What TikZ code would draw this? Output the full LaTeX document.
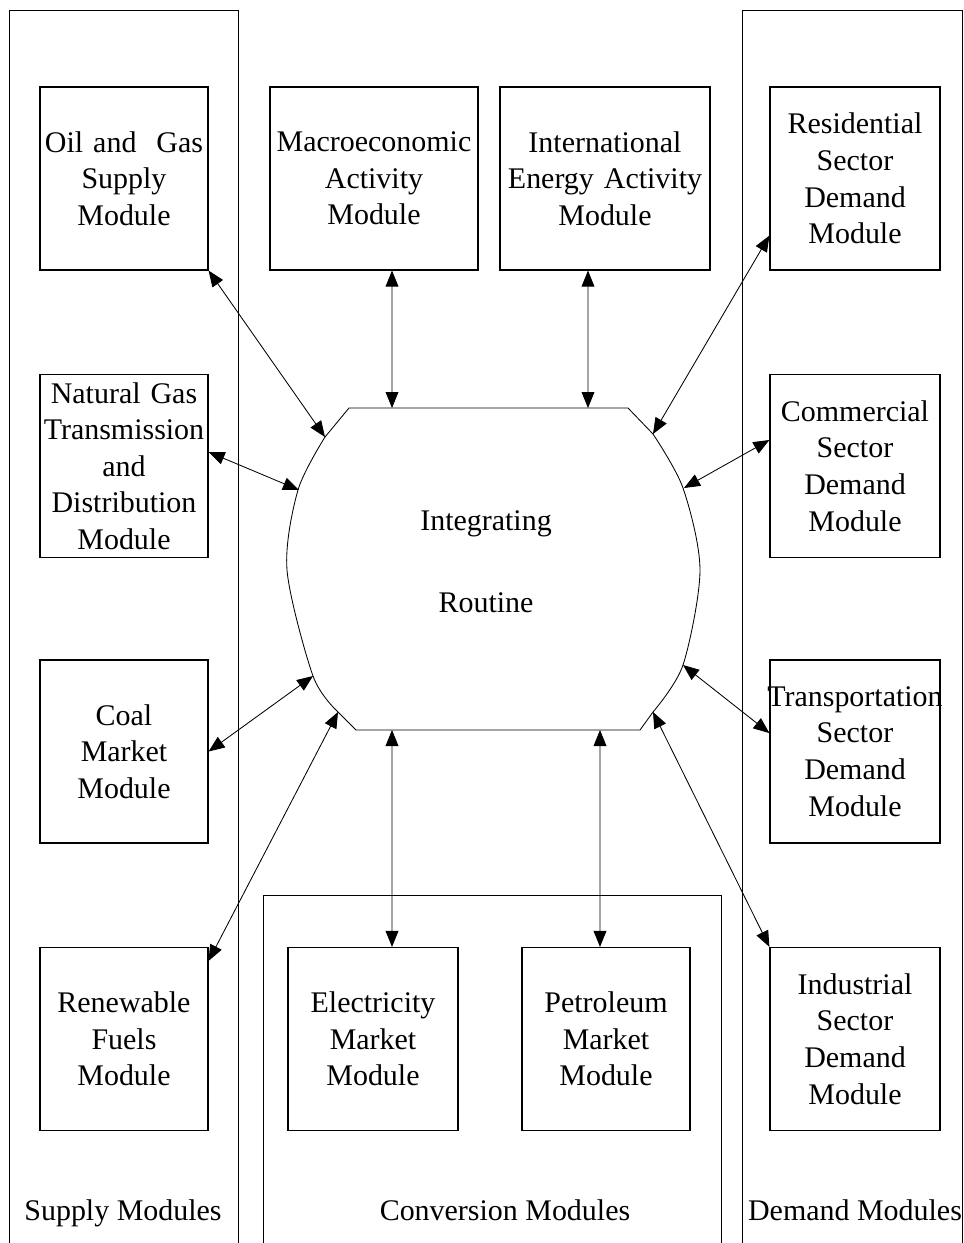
\documentclass[tikz,border=0pt]{standalone}
\usepackage{fontspec}
\setmainfont{Liberation Serif}
\usetikzlibrary{positioning,calc,arrows.meta}

\tikzset{
  module/.style={rectangle, draw, line width=0.8pt, inner sep=0pt, align=center,
    text width=#1, minimum height=4.575cm},
  module/.default=4.2cm,
  group/.style={rectangle, draw, line width=0.8pt, inner sep=0pt, anchor=north west},
  link/.style={line width=0.6pt, <->, >={Triangle[length=4mm,width=3.2mm]}}
}

\begin{document}
\begin{tikzpicture}[x=0.025cm, y=-0.025cm, font=\fontsize{21.3}{26}\selectfont]
    \useasboundingbox (0,0) rectangle (964,1243);

    % the three groups (open at the bottom edge)
    \node (supply) [group, minimum width=5.725cm, minimum height=31.5cm] at (9,10) {};
    \node (demand) [group, minimum width=5.5cm, minimum height=31.5cm] at (742,10) {};
    \node (conversion) [group, minimum width=11.45cm, minimum height=10cm] at (263,895) {};
    \node (supply-label) [anchor=base] at (123,1220) {Supply Modules};
    \node (conversion-label) [anchor=base] at (505,1220) {Conversion Modules};
    \node (demand-label) [anchor=base] at (855,1220) {Demand Modules};

    % modules
    \node (oil) [module] at (124,178.5) {Oil and\ \ Gas\\Supply\\Module};
    \node (macro) [module=5.2cm] at (374,178.5) {Macroeconomic\\Activity\\Module};
    \node (intl) [module=5.25cm] at (605,178.5) {International\\Energy Activity\\Module};
    \node (res) [module=4.25cm] at (855,178.5) {Residential\\Sector\\Demand\\Module};
    \node (ngas) [module] at (124,466) {Natural Gas\\Transmission\\and\\Distribution\\Module};
    \node (com) [module=4.25cm] at (855,466) {Commercial\\Sector\\Demand\\Module};
    \node (coal) [module] at (124,751.5) {Coal\\Market\\Module};
    \node (trans) [module=4.25cm] at (855,751.5) {\makebox[\linewidth]{Transportation}\\Sector\\Demand\\Module};
    \node (renew) [module] at (124,1039) {Renewable\\Fuels\\Module};
    \node (elec) [module=4.25cm] at (373,1039) {Electricity\\Market\\Module};
    \node (petro) [module] at (606,1039) {Petroleum\\Market\\Module};
    \node (ind) [module=4.25cm] at (855,1039) {Industrial\\Sector\\Demand\\Module};

    % integrating routine
    \draw[line width=0.6pt] (349,408) -- (628,408) -- (653,434)
        -- plot[smooth] coordinates {(653,434) (683,488) (700,570) (683,665) (653,712)}
        -- (640,730) -- (356,730) -- (338,712)
        -- plot[smooth] coordinates {(338,712) (313,676) (287,570) (298,490) (325,437)}
        -- cycle;
    \node (routine) [align=center] at (486,562) {Integrating\\[32pt]Routine};
    \coordinate (ir-oil) at (325,437);
    \coordinate (ir-ngas) at (299,490);
    \coordinate (ir-coal) at (313,676);
    \coordinate (ir-renew) at (338,712);
    \coordinate (ir-macro) at (392,408);
    \coordinate (ir-intl) at (588,408);
    \coordinate (ir-res) at (653,434);
    \coordinate (ir-com) at (684,488);
    \coordinate (ir-trans) at (683,665);
    \coordinate (ir-ind) at (653,712);
    \coordinate (ir-elec) at (392,730);
    \coordinate (ir-petro) at (600,730);

    % connections
    \draw[link] (oil.south east) -- (ir-oil);
    \draw[link] ([yshift=0.35cm]ngas.east) -- (ir-ngas);
    \draw[link] (coal.east) -- (ir-coal);
    \draw[link] ([yshift=-0.35cm]renew.north east) -- (ir-renew);
    \draw[link] ([xshift=0.45cm]macro.south) -- (ir-macro);
    \draw[link] ([xshift=-0.425cm]intl.south) -- (ir-intl);
    \draw[link] ([yshift=0.875cm]res.south west) -- (ir-res);
    \draw[link] ([yshift=0.65cm]com.west) -- (ir-com);
    \draw[link] ([yshift=0.46cm]trans.west) -- (ir-trans);
    \draw[link] (ind.north west) -- (ir-ind);
    \draw[link] ([xshift=0.475cm]elec.north) -- (ir-elec);
    \draw[link] ([xshift=-0.15cm]petro.north) -- (ir-petro);
\end{tikzpicture}
\end{document}
